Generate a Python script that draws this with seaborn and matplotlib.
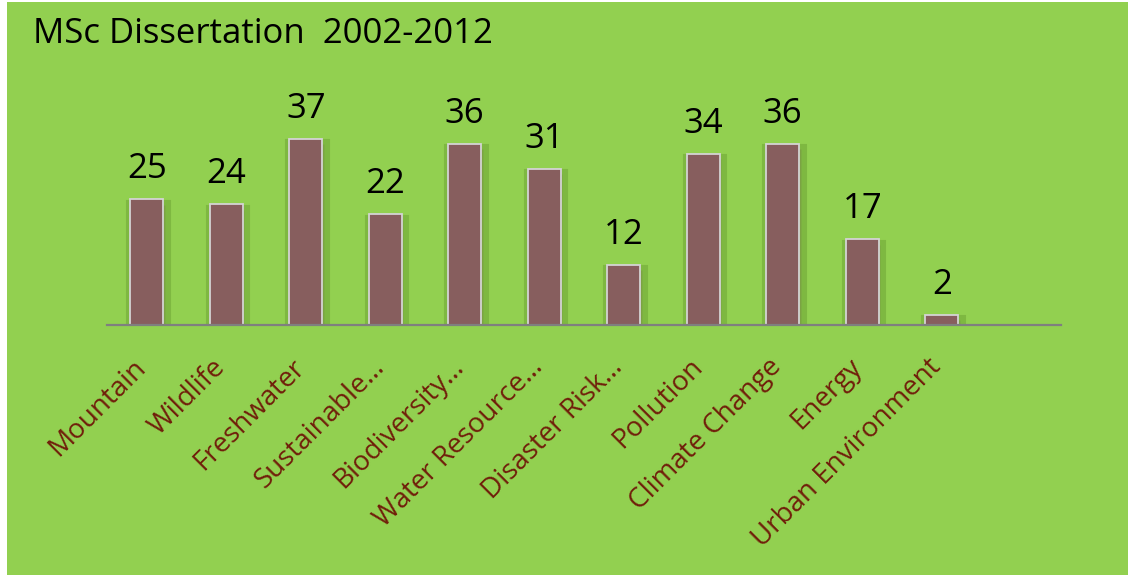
import matplotlib
matplotlib.use("Agg")
import matplotlib.pyplot as plt
import matplotlib.patheffects as pe
from matplotlib.patches import Rectangle
import seaborn as sns
import pandas as pd

# Dissertation topics and counts
topics = ["Mountain", "Wildlife", "Freshwater", "Sustainable…", "Biodiversity…",
          "Water Resource…", "Disaster Risk…", "Pollution", "Climate Change",
          "Energy", "Urban Environment"]
counts = [25, 24, 37, 22, 36, 31, 12, 34, 36, 17, 2]
title = "MSc Dissertation  2002-2012"

GREEN = "#92D050"
BAR = "#875E5E"
BAR_EDGE = "#D4D4D4"
LABEL_RED = "#701E0A"

sns.set_theme(style="white")
plt.rcParams["font.family"] = ["Open Sans", "DejaVu Sans"]

fig = plt.figure(figsize=(11.28, 5.76), dpi=100, facecolor="white")
# green panel with a thin white margin on the left
fig.patches.append(Rectangle((7 / 1128, 1 / 576), 1 - 7 / 1128, 1 - 3 / 576,
                             transform=fig.transFigure, facecolor=GREEN,
                             edgecolor="none", zorder=-10))

ax = fig.add_axes([107 / 1128, (576 - 325) / 576, 954 / 1128, 201.6 / 576])
ax.set_facecolor("none")
ax.set_zorder(2)

df = pd.DataFrame({"topic": topics, "count": counts})
sns.barplot(data=df, x="topic", y="count", color=BAR, saturation=1,
            width=0.42, edgecolor=BAR_EDGE, linewidth=1.3, ax=ax)

# soft drop shadow behind each bar
shadow = [pe.Stroke(linewidth=8, foreground="#3f6f14", alpha=0.24, offset=(0.8, -4)),
          pe.Normal()]
for bar in ax.patches:
    bar.set_path_effects(shadow)

ax.set_xlim(-0.5, 11.5)
ax.set_ylim(0, 40)

for i, v in enumerate(counts):
    ax.annotate(str(v), xy=(i, v), xytext=(0, 15), textcoords="offset points",
                ha="center", va="baseline", fontsize=25, color="black")

ax.set_xticks(range(len(topics)))
ax.set_xticklabels(topics, rotation=45, ha="right", va="baseline",
                   rotation_mode="anchor", fontsize=20, color=LABEL_RED)
ax.tick_params(axis="x", length=0, pad=31)
ax.set_xlabel("")
ax.set_ylabel("")
ax.set_yticks([])
for side in ["top", "right", "left"]:
    ax.spines[side].set_visible(False)
ax.spines["bottom"].set_color("#7F7F7F")
ax.spines["bottom"].set_linewidth(1.6)
ax.spines["bottom"].set_zorder(5)

fig.text(33 / 1128, 1 - 43 / 576, title, fontsize=25, color="black",
         ha="left", va="baseline")

fig.savefig("out.png", dpi=100, facecolor="white")
